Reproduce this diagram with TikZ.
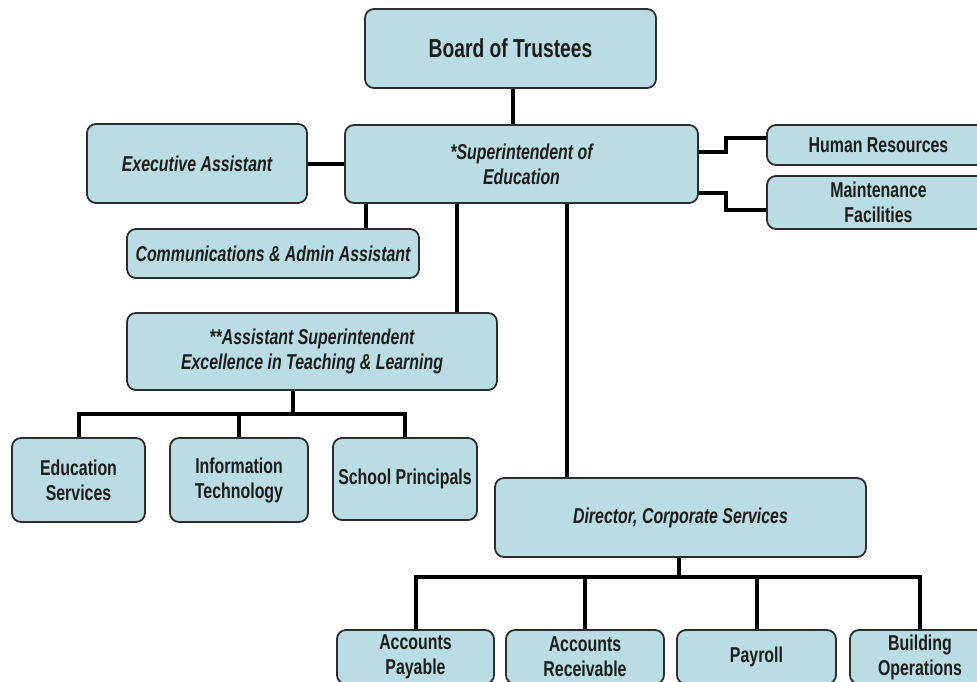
\documentclass[tikz,border=0pt]{standalone}
\usepackage{fontspec}
\setmainfont{Liberation Sans}[FakeStretch=0.74]
\definecolor{boxfill}{RGB}{185,221,226}
\definecolor{boxedge}{RGB}{45,45,45}
\definecolor{ink}{RGB}{28,28,28}
\begin{document}
\begin{tikzpicture}[x=1pt,y=-1pt,
  unit/.style={draw=boxedge, line width=1.8pt, fill=boxfill, rounded corners=9pt,
    inner sep=0pt, align=center, text=ink,
    font=\bfseries\fontsize{21.5}{25}\selectfont},
  unitit/.style={unit, font=\bfseries\itshape\fontsize{21.5}{25}\selectfont},
  link/.style={line width=4pt, draw=black}]
\useasboundingbox (0,0) rectangle (977,681);
\clip (0,0) rectangle (977,681);

% top of the organisation
\node[unit, minimum width=291pt, minimum height=79pt,
  font=\bfseries\fontsize{26}{30}\selectfont] (board) at (510.5,48.5) {Board of Trustees};
\node[unitit, minimum width=353pt, minimum height=78pt] (super) at (521.5,164) {*Superintendent of\\Education};

% staff reporting directly to the superintendent
\node[unitit, minimum width=220pt, minimum height=79pt] (exec) at (197,163.5) {Executive Assistant};
\node[unitit, minimum width=292pt, minimum height=49pt] (comms) at (273,253.5) {Communications \& Admin Assistant};
\node[unit, minimum width=223pt, minimum height=40pt] (hr) at (878.5,145) {Human Resources};
\node[unit, minimum width=223pt, minimum height=53pt] (mf) at (878.5,202.5) {Maintenance\\Facilities};

% teaching and learning branch
\node[unitit, minimum width=370pt, minimum height=77pt] (asst) at (312,351.5) {**Assistant Superintendent\\Excellence in Teaching \& Learning};
\node[unit, minimum width=133pt, minimum height=84pt] (edu) at (78.5,480) {Education\\Services};
\node[unit, minimum width=138pt, minimum height=84pt] (it) at (239,480) {Information\\Technology};
\node[unit, minimum width=144pt, minimum height=82pt] (sp) at (405,479) {School Principals};

% corporate services branch
\node[unitit, minimum width=371pt, minimum height=79pt] (dir) at (680.5,517.5) {Director, Corporate Services};
\node[unit, minimum width=157pt, minimum height=54pt] (ap) at (415.5,657) {Accounts\\Payable};
\node[unit, minimum width=158pt, minimum height=54pt] (ar) at (585,657) {Accounts\\Receivable};
\node[unit, minimum width=159pt, minimum height=54pt] (pay) at (756.5,657) {Payroll};
\node[unit, minimum width=140pt, minimum height=54pt] (bo) at (920,657) {Building\\Operations};

% reporting lines
\draw[link] ([xshift=2.5pt]board.south) -- ([xshift=2.5pt]board.south |- super.north);
\draw[link] (exec.east) -- (exec.east -| super.west);
\draw[link] ([xshift=22pt]super.south west) -- ([xshift=22pt]super.south west |- comms.north);
\draw[link] ([xshift=113pt]super.south west) -- ([xshift=113pt]super.south west |- asst.north);
\draw[link] ([xshift=223pt]super.south west) -- ([xshift=223pt]super.south west |- dir.north);
\draw[link] ([yshift=12pt]super.east) -- ++(27,0) |- ([yshift=7pt]hr.west);
\draw[link] ([yshift=-29pt]super.east) -- ++(27,0) |- ([yshift=-7.5pt]mf.west);

\draw[link] ([xshift=-19pt]asst.south) -- ++(0,25);
\draw[link] (edu.north) -- ++(0,-23) -| (sp.north);
\draw[link] (it.north) -- ++(0,-23);

\draw[link] ([xshift=-1.5pt]dir.south) -- ++(0,21);
\draw[link] (ap.north) -- ++(0,-52) -| (bo.north);
\draw[link] (ar.north) -- ++(0,-52);
\draw[link] (pay.north) -- ++(0,-52);
\end{tikzpicture}
\end{document}
